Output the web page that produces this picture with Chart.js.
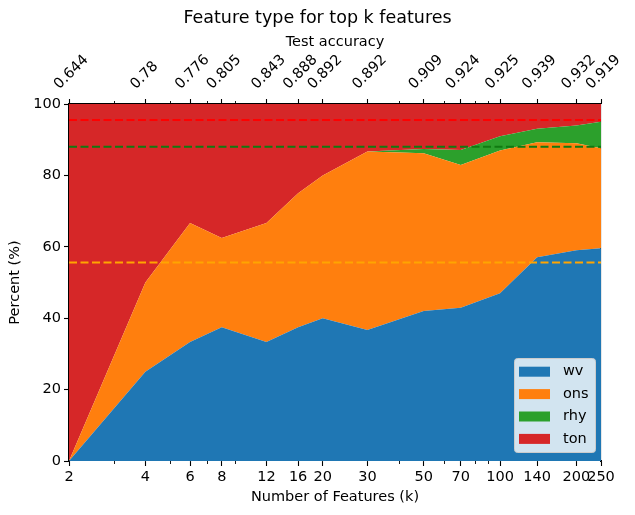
<!DOCTYPE html>
<html>
<head>
<meta charset="utf-8">
<title>Feature type for top k features</title>
<style>
  html, body { margin: 0; padding: 0; background: #fff; }
  #wrap { width: 635px; height: 515px; }
</style>
<script src="https://cdn.jsdelivr.net/npm/chart.js@4/dist/chart.umd.min.js"></script>
</head>
<body>
<div id="wrap"><canvas id="chart" width="635" height="515"></canvas></div>
<script>
// Number of top-ranked features kept (log-scaled x axis)
const kValues = [2, 4, 6, 8, 12, 16, 20, 30, 50, 70, 100, 140, 200, 250];
// Test accuracy reached with each k (top axis labels)
const accuracy = ['0.644', '0.78', '0.776', '0.805', '0.843', '0.888', '0.892',
                  '0.892', '0.909', '0.924', '0.925', '0.939', '0.932', '0.919'];
// Share (%) of each feature type among the top k features
const wv  = [0, 25, 33.3, 37.5, 33.3, 37.5, 40, 36.7, 42, 42.9, 47, 57.1, 59, 59.6];
const ons = [0, 25, 33.4, 25, 33.4, 37.5, 40, 50, 44.2, 40, 40, 32.2, 30, 28];
const rhy = [0, 0, 0, 0, 0, 0, 0, 0, 1.2, 4.2, 4, 3.8, 5, 7.4];
const ton = [100, 50, 33.3, 37.5, 33.3, 25, 20, 13.3, 12.6, 12.9, 9, 6.9, 6, 5];
// Cumulative shares over the full feature set (dashed reference levels)
const refLevels = [55.6, 88, 95.5];
// Minor tick positions on the log axes
const minorTicks = [3, 5, 7, 9, 40, 60, 80, 90];
const yTicks = [0, 20, 40, 60, 80, 100];

const FONT = "'DejaVu Sans', 'Liberation Sans', sans-serif";
Chart.defaults.font.family = FONT;
Chart.defaults.font.size = 14.5;
Chart.defaults.color = '#000';

const seriesDefs = [
  { label: 'wv',  values: wv,  color: '#1f77b4' },
  { label: 'ons', values: ons, color: '#ff7f0e' },
  { label: 'rhy', values: rhy, color: '#2ca02c' },
  { label: 'ton', values: ton, color: '#d62728' }
];
const refColors = ['#ffa500', '#117a11', '#ff0000'];

const toPoints = arr => arr.map((v, i) => ({ x: kValues[i], y: v }));

const areaSets = seriesDefs.map((s, i) => ({
  label: s.label,
  data: toPoints(s.values),
  stack: 'types',
  backgroundColor: s.color,
  borderColor: 'rgba(0,0,0,0)',
  borderWidth: 0,
  pointRadius: 0,
  tension: 0,
  fill: i === 0 ? 'origin' : '-1',
  order: 1
}));

const refSets = refLevels.map((lvl, i) => ({
  label: 'ref' + i,
  data: [{ x: kValues[0], y: lvl }, { x: kValues[kValues.length - 1], y: lvl }],
  stack: 'ref' + i,
  borderColor: refColors[i],
  borderWidth: 2,
  borderDash: [8, 3.5],
  pointRadius: 0,
  fill: false,
  order: -1
}));

// Minor tick marks on the bottom and top log axes
const minorTickPlugin = {
  id: 'minorTicks',
  afterDraw(chart) {
    const { ctx, chartArea } = chart;
    ctx.save();
    ctx.strokeStyle = '#000';
    ctx.lineWidth = 0.9;
    ['x', 'x2'].forEach(id => {
      const s = chart.scales[id];
      minorTicks.forEach(v => {
        const px = Math.round(s.getPixelForValue(v)) + 0.5;
        ctx.beginPath();
        if (id === 'x') {
          ctx.moveTo(px, chartArea.bottom);
          ctx.lineTo(px, chartArea.bottom + 3);
        } else {
          ctx.moveTo(px, chartArea.top);
          ctx.lineTo(px, chartArea.top - 3);
        }
        ctx.stroke();
      });
    });
    ctx.restore();
  }
};

// Framed legend in the lower-right corner of the plot area
const areaLegendPlugin = {
  id: 'areaLegend',
  afterDraw(chart) {
    const { ctx, chartArea } = chart;
    const items = chart.data.datasets.filter(d => d.stack === 'types');
    const w = 81, rowH = 22.4, h = 94;
    const x0 = chartArea.right - 6 - w;
    const y0 = chartArea.bottom - 9 - h;
    ctx.save();
    ctx.beginPath();
    ctx.roundRect(x0 + 0.5, y0 + 0.5, w, h, 3);
    ctx.fillStyle = 'rgba(255,255,255,0.8)';
    ctx.fill();
    ctx.strokeStyle = '#cccccc';
    ctx.lineWidth = 1;
    ctx.stroke();
    ctx.font = '14.5px ' + FONT;
    ctx.textBaseline = 'middle';
    ctx.textAlign = 'left';
    items.forEach((d, i) => {
      const cy = y0 + 13.7 + i * rowH;
      ctx.fillStyle = d.backgroundColor;
      ctx.fillRect(x0 + 5, cy - 5, 31, 10);
      ctx.fillStyle = '#000';
      ctx.fillText(d.label, x0 + 49, cy);
    });
    ctx.restore();
  }
};

const tickGrid = {
  drawOnChartArea: false,
  drawTicks: true,
  tickLength: 5,
  tickColor: '#000',
  tickWidth: 1.1
};
const axisBorder = { display: true, color: '#000', width: 1.1 };

new Chart(document.getElementById('chart'), {
  type: 'line',
  data: { datasets: [...areaSets, ...refSets] },
  options: {
    responsive: false,
    animation: false,
    devicePixelRatio: 1,
    layout: { padding: 0 },
    plugins: {
      legend: { display: false },
      tooltip: { enabled: false },
      title: {
        display: true,
        text: 'Feature type for top k features',
        color: '#000',
        font: { size: 17.5, weight: 'normal', lineHeight: 1.2 },
        padding: { top: 8, bottom: 0 }
      }
    },
    scales: {
      x: {
        type: 'logarithmic',
        position: 'bottom',
        min: kValues[0],
        max: kValues[kValues.length - 1],
        afterBuildTicks: ax => { ax.ticks = kValues.map(v => ({ value: v })); },
        ticks: {
          autoSkip: false, minRotation: 0, maxRotation: 0, padding: 3,
          color: '#000',
          callback: (v, i) => String(kValues[i])
        },
        grid: tickGrid,
        border: axisBorder,
        title: {
          display: true, text: 'Number of Features (k)', color: '#000',
          font: { size: 14.5, lineHeight: 1.2 },
          padding: { top: 0, bottom: 9 }
        },
        afterFit: s => { s.height = 54; s.paddingLeft = 0; s.paddingRight = 0; }
      },
      x2: {
        type: 'logarithmic',
        position: 'top',
        display: true,
        min: kValues[0],
        max: kValues[kValues.length - 1],
        afterBuildTicks: ax => { ax.ticks = kValues.map(v => ({ value: v })); },
        ticks: {
          autoSkip: false, minRotation: 45, maxRotation: 45, padding: 6,
          labelOffset: 0,
          color: '#000',
          callback: (v, i) => accuracy[i]
        },
        grid: tickGrid,
        border: axisBorder,
        title: {
          display: true, text: 'Test accuracy', color: '#000',
          font: { size: 14.5, lineHeight: 1.2 },
          padding: { top: 5, bottom: 0 }
        },
        afterFit: s => { s.height = 75; s.paddingLeft = 0; s.paddingRight = 0; }
      },
      y: {
        stacked: true,
        min: 0,
        max: 100,
        afterBuildTicks: ax => { ax.ticks = yTicks.map(v => ({ value: v })); },
        ticks: { padding: 3, color: '#000' },
        grid: tickGrid,
        border: axisBorder,
        title: {
          display: true, text: 'Percent (%)', color: '#000',
          font: { size: 14.5, lineHeight: 1.2 },
          padding: { top: 7, bottom: 0 }
        },
        afterFit: s => { s.width = 69; s.paddingTop = 0; s.paddingBottom = 0; }
      },
      y2: {
        position: 'right',
        display: true,
        ticks: { display: false },
        grid: { drawOnChartArea: false, drawTicks: false },
        border: axisBorder,
        afterFit: s => { s.width = 34; }
      }
    }
  },
  plugins: [minorTickPlugin, areaLegendPlugin]
});
</script>
</body>
</html>
